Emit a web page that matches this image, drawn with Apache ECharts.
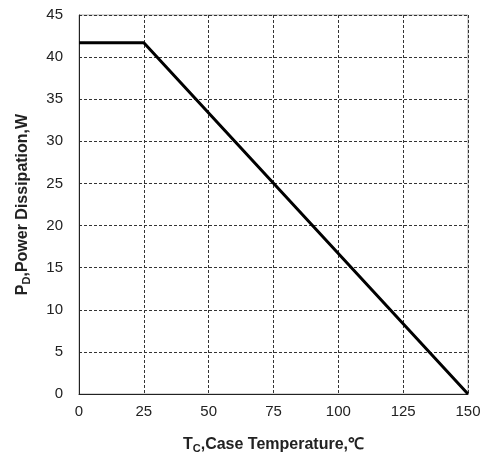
<!DOCTYPE html>
<html><head><meta charset="utf-8">
<script src="https://cdn.jsdelivr.net/npm/echarts@6/dist/echarts.min.js"></script>
<style>html,body{margin:0;padding:0;background:#fff}#c{width:487px;height:454px}</style>
</head><body><div id="c"></div>
<script>
var temperature = [0, 25, 150];
var power = [41.7, 41.7, 0];
var xTicks = [0, 25, 50, 75, 100, 125, 150];
var yTicks = [0, 5, 10, 15, 20, 25, 30, 35, 40, 45];

var chart = echarts.init(document.getElementById('c'));
var dash = {color: '#333', width: 1, type: [3, 2]};
var font = 'Liberation Sans, Arial, sans-serif';
var rich = {
  a: {fontFamily: font, fontWeight: 'bold', fontSize: 16, color: '#222'},
  s: {fontFamily: font, fontWeight: 'bold', fontSize: 11, color: '#222', padding: [7, 0, 0, 0]}
};
chart.setOption({
  animation: false,
  grid: {left: 79, right: 19, top: 15, bottom: 60, show: true, borderColor: '#aaa', borderWidth: 1,
         outerBoundsMode: 'none', containLabel: false},
  xAxis: {
    type: 'value', min: 0, max: 150, interval: 25,
    axisLine: {lineStyle: {color: '#222', width: 1}},
    axisTick: {show: false},
    splitLine: {show: true, lineStyle: dash},
    axisLabel: {color: '#222', fontFamily: font, fontSize: 15, margin: 10,
      formatter: function (v) { return xTicks.indexOf(v) >= 0 ? String(v) : ''; }},
    name: '{a|T}{s|C}{a|,Case Temperature,℃}',
    nameLocation: 'middle', nameGap: 42,
    nameTextStyle: {rich: rich}
  },
  yAxis: {
    type: 'value', min: 0, max: 45, interval: 5,
    axisLine: {show: true, lineStyle: {color: '#222', width: 1}},
    axisTick: {show: false},
    splitLine: {show: true, lineStyle: dash},
    axisLabel: {color: '#222', fontFamily: font, fontSize: 15, margin: 16,
      formatter: function (v) { return yTicks.indexOf(v) >= 0 ? String(v) : ''; }},
    name: '{a|P}{s|D}{a|,Power Dissipation,W}',
    nameLocation: 'middle', nameGap: 47, nameRotate: 90,
    nameTextStyle: {rich: rich}
  },
  series: [{
    type: 'line',
    data: temperature.map(function (t, i) { return [t, power[i]]; }),
    symbol: 'none',
    lineStyle: {color: '#000', width: 3},
    z: 5
  }]
});
</script></body></html>
